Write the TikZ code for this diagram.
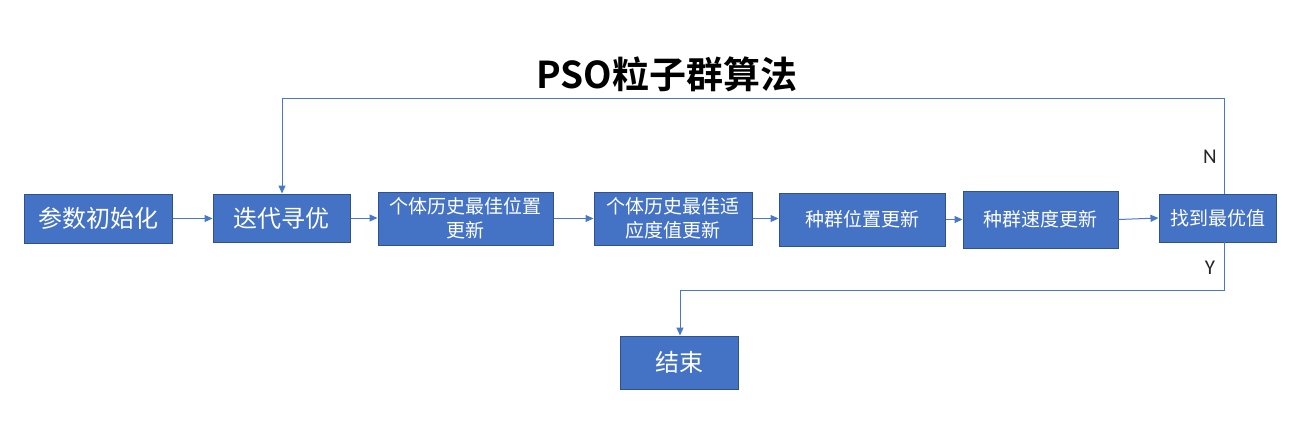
\documentclass[tikz,border=0pt]{standalone}
\usepackage{fontspec}
\setmainfont{Noto Sans CJK SC}
\newfontfamily\cjkbold{Noto Sans CJK SC Bold}
\newfontfamily\latinsans{Carlito}
\usetikzlibrary{arrows.meta}
\definecolor{boxfill}{HTML}{4472C4}
\definecolor{boxedge}{HTML}{2F528F}
\definecolor{linecol}{HTML}{4A78C8}
\tikzset{
  box/.style={draw=boxedge, line width=1pt, fill=boxfill, text=white, inner sep=0pt, align=center},
  bigbox/.style={box, font=\fontsize{24}{28}\selectfont},
  smallbox/.style={box, font=\fontsize{19}{24}\selectfont},
  conn/.style={draw=linecol, line width=1pt, -{Triangle[length=8pt,width=7pt]}},
  yn/.style={font=\latinsans\fontsize{21}{21}\selectfont, text=black!85}
}
\begin{document}
\begin{tikzpicture}[x=1pt,y=-1pt]
\useasboundingbox[fill=white] (0,0) rectangle (1300,440);
\node[font=\cjkbold\fontsize{37}{40}\selectfont] (title) at (667,74) {PSO粒子群算法};
\node[bigbox, minimum width=148pt, minimum height=49pt] (init) at (98,218.5) {参数初始化};
\node[bigbox, minimum width=137pt, minimum height=48pt] (iter) at (281.5,218) {迭代寻优};
\node[smallbox, minimum width=175pt, minimum height=53pt] (pbest) at (465.5,218.5) {个体历史最佳位置\\更新};
\node[smallbox, minimum width=158pt, minimum height=53pt] (pfit) at (673,218.5) {个体历史最佳适\\应度值更新};
\node[smallbox, minimum width=166pt, minimum height=53pt] (gpos) at (862,219.5) {种群位置更新};
\node[smallbox, minimum width=155pt, minimum height=57pt] (gvel) at (1040.5,219.5) {种群速度更新};
\node[smallbox, minimum width=117pt, minimum height=48pt] (found) at (1217.5,218) {找到最优值};
\node[bigbox, minimum width=118pt, minimum height=53pt] (end) at (679,362.5) {结束};
\coordinate (ftop) at (1224,194);
\coordinate (fbot) at (1224,242);
\coordinate (loopR) at (1224,98);
\coordinate (loopL) at (282,98);
\coordinate (yR) at (1224,290);
\coordinate (yL) at (680,290);
\draw[conn] (init.east) -- (init.east -| iter.west);
\draw[conn] (iter.east) -- (iter.east -| pbest.west);
\draw[conn] (pbest.east) -- (pbest.east -| pfit.west);
\draw[conn] (pfit.east) -- (pfit.east -| gpos.west);
\draw[conn] (gpos.east) -- (gpos.east -| gvel.west);
\draw[conn] (gvel.east) -- (found.west);
\draw[conn] (ftop) -- (loopR) -- (loopL) -- (loopL |- iter.north);
\draw[conn] (fbot) -- (yR) -- (yL) -- (yL |- end.north);
\node[yn] (nlab) at (1210,157) {N};
\node[yn] (ylab) at (1210,268) {Y};
\end{tikzpicture}
\end{document}
